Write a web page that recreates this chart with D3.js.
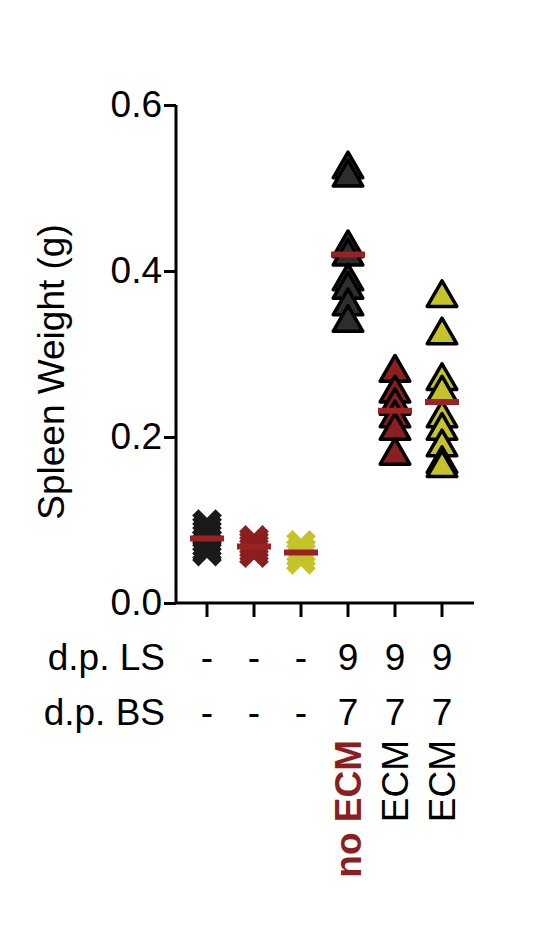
<!DOCTYPE html><html><head><script src="https://cdn.jsdelivr.net/npm/d3@7"></script>
<style>body{margin:0;background:#fff}</style></head><body><svg id="c" width="553" height="948"></svg><script>
const groups=["g1","g2","g3","g4","g5","g6"];
const lsLabels=["-","-","-","9","9","9"];
const bsLabels=["-","-","-","7","7","7"];
const ecmLabels=["","","","no ECM","ECM","ECM"];
const colors=["#1a1a1a","#8b1e1e","#c4c42a","#2e2e2e","#8b1e1e","#c4c42a"];
const shapes=["x","x","x","tri","tri","tri"];
const values=[
[0.095,0.09,0.085,0.08,0.075,0.07,0.065,0.062],
[0.076,0.072,0.068,0.064,0.06],
[0.07,0.063,0.058,0.052],
[0.525,0.515,0.43,0.42,0.39,0.38,0.36,0.34],
[0.28,0.255,0.24,0.225,0.21,0.18],
[0.37,0.325,0.27,0.255,0.225,0.21,0.19,0.17,0.165]];
const yTicks=[0,0.2,0.4,0.6];
const svg=d3.select("#c");
const y=d3.scaleLinear().domain([0,0.6]).range([603,105]);
const x=d3.scalePoint().domain(groups).range([207,442]);
const F="Liberation Sans, Arial, sans-serif";
const FS=37;
const ax=svg.append("g").attr("transform","translate(176,0)").call(d3.axisLeft(y).tickValues(yTicks).tickFormat(d3.format(".1f")).tickSize(12).tickPadding(2));
ax.selectAll("path,line").attr("stroke","#000").attr("stroke-width",3);
ax.select("path").attr("d","M0,105V603");
ax.selectAll("text").attr("font-size",FS).attr("font-family",F).attr("fill","#000");
svg.append("line").attr("x1",176).attr("x2",474).attr("y1",603).attr("y2",603).attr("stroke","#000").attr("stroke-width",3);
groups.forEach(g=>svg.append("line").attr("x1",x(g)).attr("x2",x(g)).attr("y1",603).attr("y2",617).attr("stroke","#000").attr("stroke-width",3));
svg.append("text").attr("transform","translate(64,372) rotate(-90)").attr("text-anchor","middle").attr("font-size",FS).attr("font-family",F).text("Spleen Weight (g)");
const tri=d3.symbol().type(d3.symbolTriangle).size(380);
const cross=d3.symbol().type(d3.symbolTimes).size(360);
groups.forEach((g,i)=>{
  values[i].forEach(v=>{
    const p=svg.append("path").attr("transform",`translate(${x(g)},${y(v)+(shapes[i]=="tri"?2:0)})`);
    if(shapes[i]=="tri") p.attr("d",tri()).attr("fill",colors[i]).attr("stroke","#000").attr("stroke-width",3.5).attr("stroke-linejoin","round");
    else p.attr("d",cross()).attr("fill","none").attr("stroke",colors[i]).attr("stroke-width",9);
  });
  const m=d3.mean(values[i]);
  svg.append("line").attr("x1",x(g)-17).attr("x2",x(g)+17).attr("y1",y(m)).attr("y2",y(m)).attr("stroke","#9b2222").attr("stroke-width",6);
  svg.append("text").attr("x",x(g)).attr("y",670).attr("text-anchor","middle").attr("font-size",FS).attr("font-family",F).text(lsLabels[i]);
  svg.append("text").attr("x",x(g)).attr("y",725).attr("text-anchor","middle").attr("font-size",FS).attr("font-family",F).text(bsLabels[i]);
  if(ecmLabels[i]) svg.append("text").attr("transform",`translate(${x(g)+13},740) rotate(-90)`).attr("text-anchor","end").attr("font-size",FS).attr("font-family",F)
    .attr("font-weight",i==3?"bold":"normal").attr("fill",i==3?"#8b1e1e":"#000").text(ecmLabels[i]);
});
svg.append("text").attr("x",165).attr("y",670).attr("text-anchor","end").attr("font-size",FS).attr("font-family",F).text("d.p. LS");
svg.append("text").attr("x",165).attr("y",725).attr("text-anchor","end").attr("font-size",FS).attr("font-family",F).text("d.p. BS");
</script></body></html>
